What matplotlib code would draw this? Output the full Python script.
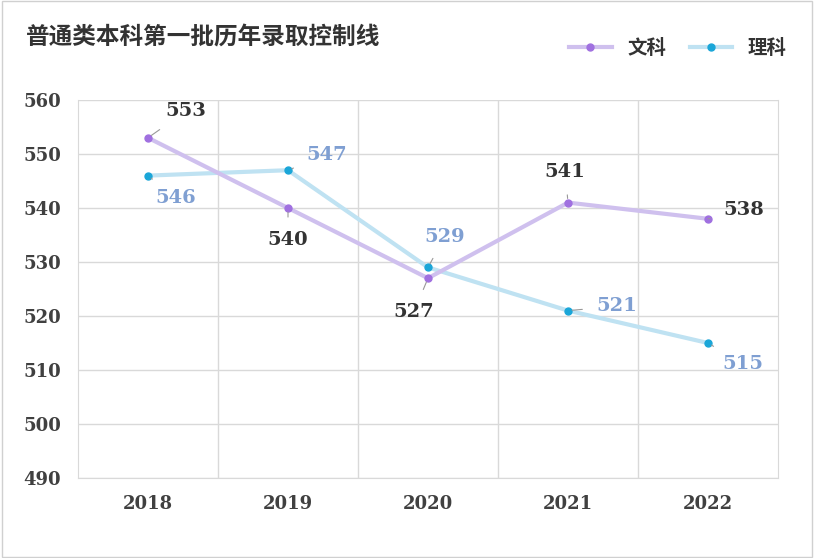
import matplotlib
matplotlib.use("Agg")
import matplotlib.pyplot as plt

years = ["2018", "2019", "2020", "2021", "2022"]
wen = [553, 540, 527, 541, 538]
li = [546, 547, 529, 521, 515]
wen_off = [(27, 19), (0, -23), (-10, -24), (-2, 22), (26, 6)]
li_off = [(20, -16), (28, 11), (12, 22), (35, 3), (25, -15)]

fig = plt.figure(figsize=(8.14, 5.58), dpi=100)
fig.patches.append(plt.Rectangle((0.002, 0.002), 0.996, 0.996, transform=fig.transFigure,
                                 fill=False, edgecolor="#d0d0d0", lw=1))
ax = fig.add_axes([78/814, 80/558, 700/814, 378/558])
x = range(len(years))
ax.plot(x, li, color="#bfe2f2", lw=3, zorder=2)
ax.plot(x, li, 'o', color="#1aa6d8", ms=5, zorder=3)
ax.plot(x, wen, color="#cfc0ee", lw=3, zorder=2)
ax.plot(x, wen, 'o', color="#a070e0", ms=5, zorder=3)

tf = dict(family="DejaVu Serif", weight="bold", fontsize=14)
for i, v in enumerate(wen):
    ax.annotate(str(v), (i, v), xytext=wen_off[i], textcoords="offset points", ha="center", va="center",
                color="#333333", arrowprops=dict(arrowstyle="-", color="#999999", lw=0.8,
                                                  shrinkA=8, shrinkB=3), **tf)
for i, v in enumerate(li):
    ax.annotate(str(v), (i, v), xytext=li_off[i], textcoords="offset points", ha="center", va="center",
                color="#7f9fd2", arrowprops=dict(arrowstyle="-", color="#999999", lw=0.8,
                                                  shrinkA=8, shrinkB=3), **tf)

ax.set_xlim(-0.5, 4.5)
ax.set_ylim(490, 560)
ax.set_yticks(range(490, 561, 10))
ax.set_xticks(list(x))
ax.set_xticklabels(years)
ax.set_xticks([0.5, 1.5, 2.5, 3.5], minor=True)
ax.grid(True, axis="y", color="#d9d9d9", lw=1)
ax.grid(True, axis="x", which="minor", color="#d9d9d9", lw=1)
ax.tick_params(which="both", length=0, labelcolor="#404040", pad=12)
for lab in ax.get_xticklabels() + ax.get_yticklabels():
    lab.set_family("DejaVu Serif"); lab.set_weight("bold"); lab.set_fontsize(13)
for s in ax.spines.values():
    s.set_color("#d9d9d9")
ax.spines["top"].set_visible(False)

fig.text(26/814, 1-38/558, "普通类本科第一批历年录取控制线", family="Noto Sans CJK SC",
         weight="bold", fontsize=17, color="#333333", va="center")
leg = fig.legend([plt.Line2D([], [], color="#cfc0ee", lw=3, marker="o", mfc="#a070e0", mec="#a070e0", ms=5),
                  plt.Line2D([], [], color="#bfe2f2", lw=3, marker="o", mfc="#1aa6d8", mec="#1aa6d8", ms=5)],
                 ["文科", "理科"], loc="center", bbox_to_anchor=(678/814, 1-48/558), ncol=2, frameon=False,
                 prop=dict(family="Noto Sans CJK SC", weight="bold", size=14), handlelength=2.2, columnspacing=1.2)
for t in leg.get_texts():
    t.set_color("#333333")
fig.savefig("out.png", dpi=100)
